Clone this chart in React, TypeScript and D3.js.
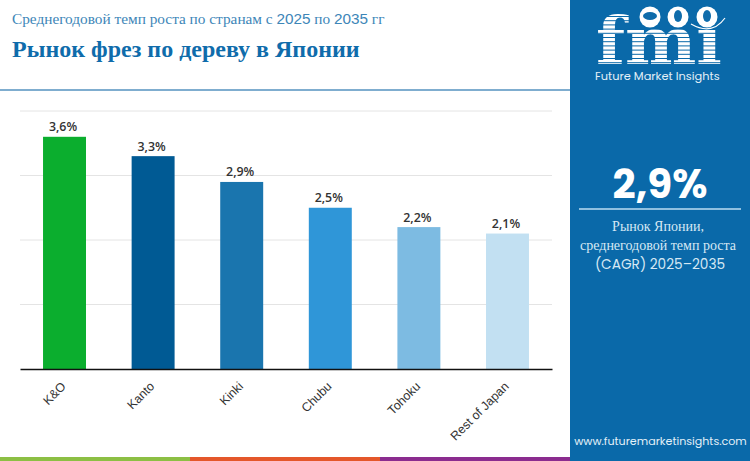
import { useEffect, useRef } from 'react';
import * as d3 from 'd3';

const width = 750;
const height = 461;
const [mt, mb, ml, mr] = [111, 369, 20, 552];

const categories = ['K&O', 'Kanto', 'Kinki', 'Chubu', 'Tohoku', 'Rest of Japan'];
const values = [3.6, 3.3, 2.9, 2.5, 2.2, 2.1];
const valueLabels = ['3,6%', '3,3%', '2,9%', '2,5%', '2,2%', '2,1%'];
const barColors = ['#0bae2e', '#005a94', '#1a75ae', '#2f96d8', '#7dbbe2', '#c2e0f2'];
const gridTicks = [1, 2, 3, 4];
const footerColors = ['#8cbf44', '#e4572a', '#8b2c8f'];
const panelLines = ['Рынок Японии,', 'среднегодовой темп роста', '(CAGR) 2025–2035'];
const subtitleParts = ['Среднегодовой темп роста по странам с ', '2025', ' по ', '2035', ' гг'];

const blue = '#0f6cab';
const sans = 'Poppins, Inter, "Noto Sans", sans-serif';
const serif = '"Liberation Serif", serif';

export default function App() {
    const ref = useRef<SVGSVGElement>(null);

    useEffect(() => {
        document.body.style.margin = '0';
        const svg = d3.select(ref.current);
        svg.selectAll('*').remove();

        svg.append('rect').attr('width', width).attr('height', height).attr('fill', '#ffffff');

        const x = d3.scaleBand<string>().domain(categories).range([ml, mr]).paddingInner(0.515).paddingOuter(0.26);
        const y = d3.scaleLinear().domain([0, 4]).range([mb, mt]);

        // header
        svg.append('text')
            .attr('x', 12)
            .attr('y', 24)
            .attr('font-family', serif)
            .attr('font-size', 15.3)
            .attr('fill', '#3d86b8')
            .selectAll('tspan')
            .data(subtitleParts)
            .join('tspan')
            .attr('font-family', (_d, i) => (i % 2 === 1 ? '"Liberation Sans", sans-serif' : serif))
            .style('white-space', 'pre')
            .text((d) => d);
        svg.append('text')
            .attr('x', 12)
            .attr('y', 57)
            .attr('font-family', serif)
            .attr('font-size', 24)
            .attr('font-weight', 700)
            .attr('fill', blue)
            .text('Рынок фрез по дереву в Японии');
        svg.append('rect').attr('x', 0).attr('y', 89).attr('width', 570).attr('height', 2).attr('fill', '#7fadcf');

        // grid
        svg.append('g')
            .selectAll('line')
            .data(gridTicks)
            .join('line')
            .attr('x1', ml)
            .attr('x2', mr)
            .attr('y1', (d) => y(d))
            .attr('y2', (d) => y(d))
            .attr('stroke', '#e4e4e4')
            .attr('stroke-width', 1);

        // bars
        svg.append('g')
            .selectAll('rect')
            .data(values)
            .join('rect')
            .attr('x', (_d, i) => x(categories[i])!)
            .attr('y', (d) => y(d))
            .attr('width', x.bandwidth())
            .attr('height', (d) => y(0) - y(d))
            .attr('fill', (_d, i) => barColors[i]);

        svg.append('g')
            .selectAll('text')
            .data(values)
            .join('text')
            .attr('x', (_d, i) => x(categories[i])! + x.bandwidth() / 2 - 1.5)
            .attr('y', (d) => y(d) - 5.5)
            .attr('text-anchor', 'middle')
            .attr('font-family', '"Open Sans", sans-serif')
            .attr('font-size', 12.4)
            .attr('font-weight', 600)
            .attr('fill', '#333333')
            .text((_d, i) => valueLabels[i]);

        // x axis
        const xAxisG = svg.append('g').attr('transform', `translate(0, ${mb})`);
        xAxisG
            .call(d3.axisBottom(x).tickSize(0))
            .call((g) => g.select('.domain').attr('stroke', '#111111').attr('stroke-width', 1.3))
            .call((g) =>
                g
                    .selectAll<SVGTextElement, string>('text')
                    .attr('font-family', '"Liberation Sans", sans-serif')
                    .attr('font-size', 12.4)
                    .attr('fill', '#333333')
                    .attr('text-anchor', 'end')
                    .attr('dy', 0)
                    .attr('transform', 'translate(0, 16) rotate(-45)')
            );

        // right panel
        svg.append('rect').attr('x', 570).attr('y', 0).attr('width', 180).attr('height', height).attr('fill', '#0a69a9');

        // logo
        const defs = svg.append('defs');
        const stripes = defs.append('mask').attr('id', 'logo-stripes');
        stripes.append('rect').attr('x', 570).attr('y', 0).attr('width', 180).attr('height', 70).attr('fill', '#ffffff');
        stripes
            .append('g')
            .selectAll('rect')
            .data(d3.range(16, 68, 4.2))
            .join('rect')
            .attr('x', 570)
            .attr('y', (d) => d)
            .attr('width', 180)
            .attr('height', 1)
            .attr('fill', '#000000');

        svg.append('text')
            .attr('x', 659)
            .attr('y', 64)
            .attr('text-anchor', 'middle')
            .attr('font-family', '"DejaVu Serif", serif')
            .attr('font-size', 66)
            .attr('font-weight', 700)
            .attr('textLength', 126)
            .attr('lengthAdjust', 'spacingAndGlyphs')
            .attr('fill', '#ffffff')
            .attr('mask', 'url(#logo-stripes)')
            .text('fmı');

        svg.append('g')
            .selectAll('circle')
            .data([650, 678, 707])
            .join('circle')
            .attr('cx', (d) => d)
            .attr('cy', 17)
            .attr('r', 10.5)
            .attr('fill', '#ffffff');
        svg.append('g')
            .selectAll('ellipse')
            .data([650, 678, 707])
            .join('ellipse')
            .attr('cx', (d) => d)
            .attr('cy', 16)
            .attr('rx', (_d, i) => (i === 0 ? 7 : 4))
            .attr('ry', (_d, i) => (i === 0 ? 4 : 6))
            .attr('fill', blue);
        svg.append('path')
            .attr('d', 'M691 24 Q712 36 725 18')
            .attr('fill', 'none')
            .attr('stroke', '#ffffff')
            .attr('stroke-width', 1.2);

        svg.append('text')
            .attr('x', 595)
            .attr('y', 80)
            .attr('font-family', sans)
            .attr('font-size', 11.4)
            .attr('fill', '#e3f0f8')
            .text('Future Market Insights');

        // cagr callout
        svg.append('text')
            .attr('x', 660)
            .attr('y', 198)
            .attr('text-anchor', 'middle')
            .attr('font-family', sans)
            .attr('font-size', 40.5)
            .attr('font-weight', 700)
            .attr('fill', '#ffffff')
            .text('2,9%');
        svg.append('rect').attr('x', 579).attr('y', 208).attr('width', 162).attr('height', 2).attr('fill', '#8fc0e0');
        svg.append('g')
            .selectAll('text')
            .data(panelLines)
            .join('text')
            .attr('x', (_d, i) => (i === 2 ? 660 : 658))
            .attr('y', (_d, i) => 231 + i * 19)
            .attr('text-anchor', 'middle')
            .attr('font-family', (_d, i) => (i === 2 ? sans : serif))
            .attr('font-size', (_d, i) => (i === 2 ? 13.7 : 14))
            .attr('fill', '#d6e8f4')
            .text((d) => d);

        svg.append('text')
            .attr('x', 660.5)
            .attr('y', 445)
            .attr('text-anchor', 'middle')
            .attr('font-family', sans)
            .attr('font-size', 11.1)
            .attr('fill', '#e3f0f8')
            .text('www.futuremarketinsights.com');

        // footer strip
        const footer = d3.scaleBand<number>().domain([0, 1, 2]).range([0, 570]);
        svg.append('g')
            .selectAll('rect')
            .data(footerColors)
            .join('rect')
            .attr('x', (_d, i) => footer(i)!)
            .attr('y', 457)
            .attr('width', footer.bandwidth())
            .attr('height', 4)
            .attr('fill', (d) => d);
    }, []);

    return <svg ref={ref} width={width} height={height} style={{ display: 'block' }} />;
}
